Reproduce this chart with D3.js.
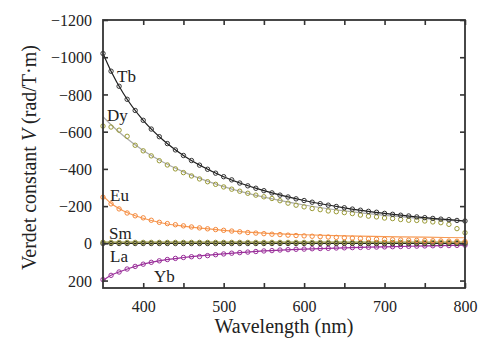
<!DOCTYPE html>
<html>
<head>
<meta charset="utf-8">
<script src="https://cdn.jsdelivr.net/npm/d3@7"></script>
<style>
  html, body { margin: 0; padding: 0; background: #fff; }
  svg { display: block; }
  svg text { font-family: 'Liberation Serif', 'DejaVu Serif', 'Noto Serif', serif !important; fill: #222; }
</style>
</head>
<body>
<svg id="chart" width="500" height="358"></svg>
<script>
// ---- data ----
const wavelengths = d3.range(350, 801, 10); // measurement points (nm)
const tbValues = [-1020,-925,-844,-774,-714,-661,-614,-573,-536,-502,-472,-445,-420,-398,-377,-358,-341,-324,-309,-296,-283,-271,-259,-249,-239,-230,-221,-213,-205,-198,-191,-184,-178,-172,-167,-161,-156,-151,-147,-142,-138,-134,-130,-127,-123,-120];
const dyValues = [-630,-625,-608,-575,-527,-497,-470,-444,-421,-400,-380,-362,-346,-331,-317,-303,-291,-280,-269,-259,-250,-241,-229,-216,-205,-196,-187,-181,-174,-170,-165,-160,-152,-146,-142,-136,-133,-128,-124,-123,-120,-115,-111,-102,-79,-57];
const euValues = [-248,-212,-185,-163,-148,-137,-124,-113,-106,-100,-94,-88,-83,-78,-74,-70,-66,-62,-58,-55,-52,-49,-47,-44,-42,-40,-38,-36,-34,-32,-30,-28,-26,-24,-22,-21,-19,-18,-17,-16,-15,-14,-13,-12,-11,-10];
const smValues = [-6,-5,-5,-5,-5,-5,-5,-5,-5,-5,-5,-5,-5,-5,-5,-5,-5,-5,-5,-5,-5,-5,-5,-5,-5,-5,-5,-5,-5,-5,-5,-5,-5,-5,-5,-5,-5,-5,-5,-5,-5,-5,-5,-5,-5,-5];
const laValues = [1,1,1,1,1,1,1,1,1,1,1,1,1,1,1,1,1,1,1,1,1,1,1,1,1,1,1,1,1,1,1,1,1,1,1,1,1,1,1,1,1,1,1,1,1,1];
const ybValues = [195,172,154,138,124,112,102,94,87,81,76,72,71,66,61,57,53,50,47,44,41,39,36,34,32,31,29,28,27,25,24,23,22,21,20,19,18,17,16,15,14,13,12,12,11,10];

const fitWavelengths = [350,360,375,400,425,450,500,550,600,650,700,750,800];
const tbFit = [-1020,-925,-808,-661,-554,-472,-358,-283,-230,-191,-161,-138,-120];
const dyFit = [-680,-637,-579,-499,-436,-384,-305,-248,-206,-174,-150,-132,-118];
const euFit = [-255,-215,-175,-135,-108,-92,-70,-55,-46,-40,-36,-33,-30];
const smFit = [-6,-6,-6,-6,-6,-6,-6,-6,-6,-6,-6,-6,-6];
const laFit = [1,1,1,1,1,1,1,1,1,1,1,1,1];
const ybFit = [200,172,146,112,90,76,57,41,31,24,19,14,10];

const seriesNames = ["Yb","La","Sm","Eu","Dy","Tb"];
const xTickValues = [400,500,600,700,800];
const yTickValues = [-1200,-1000,-800,-600,-400,-200,0,200];

// ---- layout ----
const FONT = "'Liberation Serif', 'DejaVu Serif', 'Noto Serif', serif";
const svg = d3.select("#chart");
const W = 500, H = 358;
const m = {left: 103, right: 35, top: 20, bottom: 70};
const x = d3.scaleLinear().domain([350, 800]).range([m.left, W - m.right]);
const y = d3.scaleLinear().domain([-1200, 240]).range([m.top, H - m.bottom]);

const styles = {
  Tb: {dot: "#333", line: "#1e1e1e", dots: tbValues, fit: tbFit, label: [117, 82]},
  Dy: {dot: "#9a9a35", line: "#ababab", dots: dyValues, fit: dyFit, label: [107, 121]},
  Eu: {dot: "#f5883a", line: "#f69a55", dots: euValues, fit: euFit, label: [110, 201]},
  Sm: {dot: "#8e8e35", line: "#8a8a3a", dots: smValues, fit: smFit, label: [109, 239]},
  La: {dot: "#3a3a2a", line: "#222", dots: laValues, fit: laFit, label: [110, 262]},
  Yb: {dot: "#9a2f9a", line: "#9a2f9a", dots: ybValues, fit: ybFit, label: [154, 282]}
};

const line = d3.line().x(d => x(d[0])).y(d => y(d[1])).curve(d3.curveMonotoneX);

const gData = svg.append("g");
seriesNames.forEach(name => {
  const s = styles[name];
  gData.append("path")
    .datum(fitWavelengths.map((w, i) => [w, s.fit[i]]))
    .attr("d", line)
    .attr("fill", "none")
    .attr("stroke", s.line)
    .attr("stroke-width", 1.2);
});
seriesNames.forEach(name => {
  const s = styles[name];
  gData.append("g").selectAll("circle")
    .data(wavelengths.map((w, i) => [w, s.dots[i]]))
    .join("circle")
    .attr("cx", d => x(d[0]))
    .attr("cy", d => y(d[1]))
    .attr("r", 2.2)
    .attr("fill", "none")
    .attr("stroke", s.dot)
    .attr("stroke-width", 1);
});

// ---- axes ----
const axisColor = "#333";
const xb = svg.append("g").attr("transform", `translate(0,${H - m.bottom})`)
  .call(d3.axisBottom(x).tickValues(d3.range(400, 801, 50)).tickSize(-5).tickPadding(10)
    .tickFormat(d => xTickValues.includes(d) ? d3.format("d")(d) : ""));
const xt = svg.append("g").attr("transform", `translate(0,${m.top})`)
  .call(d3.axisTop(x).tickValues(d3.range(400, 801, 50)).tickSize(-5).tickFormat(""));
const yl = svg.append("g").attr("transform", `translate(${m.left},0)`)
  .call(d3.axisLeft(y).tickValues(yTickValues).tickSize(-5).tickPadding(11).tickFormat(d3.format("d")));
const yr = svg.append("g").attr("transform", `translate(${W - m.right},0)`)
  .call(d3.axisRight(y).tickValues(yTickValues).tickSize(-5).tickFormat(""));

[xb, xt, yl, yr].forEach(g => {
  g.attr("font-family", FONT);
  g.select(".domain").remove();
  g.selectAll(".tick line").attr("stroke", axisColor).attr("stroke-width", 1.6);
  g.selectAll(".tick text").attr("font-size", 16)
    .style("font-family", FONT).attr("fill", "#222");
});
xb.selectAll(".tick text").attr("dy", "0.9em");
yl.selectAll(".tick text").attr("dy", "0.35em");

svg.append("rect")
  .attr("x", m.left).attr("y", m.top)
  .attr("width", W - m.left - m.right).attr("height", H - m.top - m.bottom)
  .attr("fill", "none").attr("stroke", axisColor).attr("stroke-width", 1.8);

// ---- labels ----
seriesNames.forEach(name => {
  const s = styles[name];
  svg.append("text").attr("x", s.label[0]).attr("y", s.label[1])
    .style("font-family", FONT)
    .attr("font-size", 17).text(name);
});

svg.append("text")
  .attr("x", (m.left + W - m.right) / 2).attr("y", 333)
  .attr("text-anchor", "middle").attr("font-size", 20)
  .style("font-family", FONT)
  .text("Wavelength (nm)");

const yt = svg.append("text")
  .attr("transform", `translate(36,${(45 + 270) / 2}) rotate(-90)`)
  .attr("text-anchor", "middle").attr("font-size", 20)
  .style("font-family", FONT);
yt.append("tspan").text("Verdet constant ");
yt.append("tspan").attr("font-style", "italic").text("V");
yt.append("tspan").text(" (rad/T\u00B7m)");
</script>
</body>
</html>
